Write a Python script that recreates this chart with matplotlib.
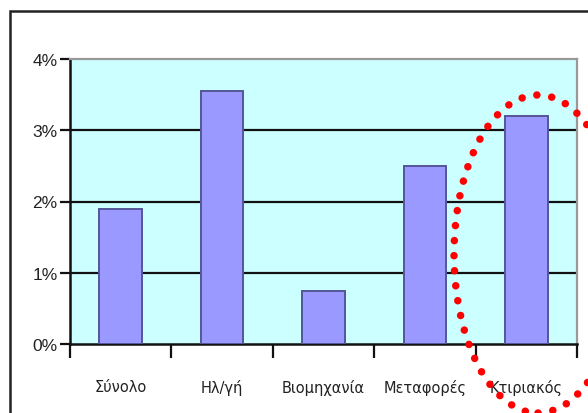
import matplotlib
matplotlib.use("Agg")
import matplotlib.pyplot as plt
from matplotlib.patches import Ellipse, Rectangle
from matplotlib.ticker import FuncFormatter

categories = ["Σύνολο", "Ηλ/γή", "Βιομηχανία", "Μεταφορές", "Κτιριακός"]
values = [1.9, 3.55, 0.75, 2.5, 3.2]
y_ticks = [0, 1, 2, 3, 4]

W, H = 588, 414
fig = plt.figure(figsize=(W / 100, H / 100), dpi=100)
fig.patch.set_facecolor("white")

# chart-area frame (continues past the right and bottom edges)
fig.add_artist(Rectangle((10 / W, -0.1), 1.1, (H - 12) / H + 0.1,
                         transform=fig.transFigure, fill=False,
                         edgecolor="#222222", linewidth=1.8))

ax = fig.add_axes([70 / W, 69 / H, 507 / W, 285 / H])
ax.set_facecolor("#CCFFFF")

x = list(range(len(categories)))
ax.bar(x, values, width=0.42, color="#9999FF", edgecolor="#555599",
       linewidth=1.4, zorder=3)

ax.set_xlim(-0.5, len(categories) - 0.5)
ax.set_ylim(0, 4)
ax.set_yticks(y_ticks)
ax.yaxis.set_major_formatter(FuncFormatter(lambda v, p: f"{v:.0f}%"))
for v in y_ticks[1:-1]:
    ax.axhline(v, color="#111111", linewidth=1.6, zorder=2)

ax.set_xticks([i - 0.5 for i in range(len(categories) + 1)])
ax.set_xticklabels([])
ax.set_xticks(x, minor=True)
ax.set_xticklabels(categories, minor=True, fontsize=10.5,
                   family="Liberation Sans Narrow", color="#222222")
ax.tick_params(axis="x", which="major", length=10, width=1.6,
               color="#111111", direction="out")
ax.tick_params(axis="x", which="minor", length=0, pad=25)
ax.tick_params(axis="y", length=7, width=1.6, color="#111111",
               labelsize=12.5, pad=2, labelcolor="#222222")
for lab in ax.get_yticklabels():
    lab.set_family("Liberation Sans")

ax.spines["left"].set_color("#111111")
ax.spines["left"].set_linewidth(1.8)
ax.spines["bottom"].set_color("#111111")
ax.spines["bottom"].set_linewidth(1.8)
ax.spines["top"].set_color("#999999")
ax.spines["top"].set_linewidth(1.6)
ax.spines["right"].set_color("#999999")
ax.spines["right"].set_linewidth(1.6)

# red dotted highlight around the last category
ring = Ellipse((538 / W, (H - 255) / H), 168 / W, 318 / H,
               transform=fig.transFigure, fill=False, edgecolor="#FF0000",
               linewidth=5.4, linestyle=(0, (0.01, 2.0)), zorder=10)
ring.set_capstyle("round")
fig.add_artist(ring)

fig.savefig("out.png", dpi=100)
